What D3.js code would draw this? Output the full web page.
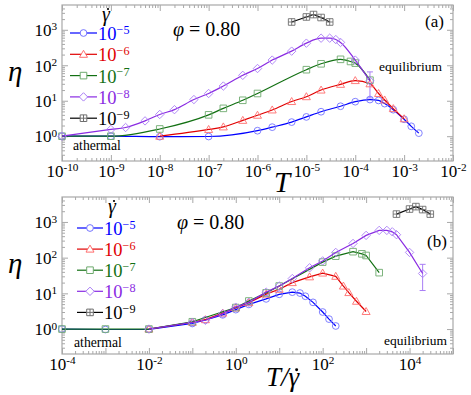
<!DOCTYPE html>
<html>
<head>
<meta charset="utf-8">
<script src="https://cdn.jsdelivr.net/npm/d3@7"></script>
</head>
<body style="margin:0">
<svg id="chart" width="471" height="395"></svg>
<script>
// shear rates (exponents) and their temperature / viscosity readings
const rateExps = [-5, -6, -7, -8, -9];

const tempRate5 = [1e-10, 1e-9, 1e-8, 1e-7, 1e-6, 2e-6, 5e-6, 1e-5, 2e-5, 5e-5, 1e-4, 2e-4, 3e-4, 4e-4, 6e-4, 1e-3, 1.4e-3, 2e-3];
const etaRate5 = [1.0, 1.0, 0.97, 0.98, 1.43, 1.8, 2.5, 3.5, 4.9, 7.0, 9.4, 10.8, 10.2, 8.3, 5.6, 3.0, 1.9, 1.22];

const tempRate6 = [1e-8, 1e-7, 2e-7, 5e-7, 1e-6, 2e-6, 5e-6, 1e-5, 2e-5, 5e-5, 1e-4, 2e-4, 3e-4, 4e-4, 6e-4, 1e-3];
const etaRate6 = [1.0, 1.55, 1.83, 2.8, 3.9, 5.5, 9.5, 13, 20, 29, 37, 30, 16, 10.5, 6.0, 3.1];

const tempRate7 = [1e-11, 1e-10, 1e-9, 1e-8, 1e-7, 2e-7, 5e-7, 1e-6, 1e-5, 2e-5, 5e-5, 8e-5, 1e-4, 2e-4];
const etaRate7 = [1.0, 1.0, 1.0, 1.6, 4.0, 6.1, 10.3, 16, 75, 110, 147, 128, 115, 38];

const tempRate8 = [1e-10, 1e-9, 2e-9, 5e-9, 1e-8, 2e-8, 5e-8, 1e-7, 2e-7, 5e-7, 1e-6, 2e-6, 5e-6, 1e-5, 2e-5, 3e-5, 4e-5, 5e-5, 1e-4, 2e-4];
const etaRate8 = [1.0, 1.55, 1.76, 2.7, 4.1, 5.6, 10.8, 16, 26, 52, 81, 140, 250, 420, 580, 580, 530, 440, 140, 36];

const tempRate9 = [5e-6, 1e-5, 1.4e-5, 2e-5, 3e-5];
const etaRate9 = [1660, 2300, 2690, 2220, 1660];

// error bar on the last 10^-8 point
const errTemp = [2e-4];
const errLow = [12];
const errHigh = [65];
const errRateExp = -8;

// tick labels
const xLabelsA = [-10, -9, -8, -7, -6, -5, -4, -3, -2];
const xLabelsB = [-4, -2, 0, 2, 4];
const yLabels = [0, 1, 2, 3];

// styles
const lineColors = ["#0000ff", "#e00000", "#127012", "#8a2be2", "#000000"];
const markColors = ["#7474ff", "#ff6e6e", "#6eaa6e", "#a97ef5", "#6e6e6e"];
const shapes = ["circle", "triangle", "square", "diamond", "boxplus"];
const serif = "'Liberation Serif'";

const series = [
    { temps: tempRate5, etas: etaRate5 },
    { temps: tempRate6, etas: etaRate6 },
    { temps: tempRate7, etas: etaRate7 },
    { temps: tempRate8, etas: etaRate8 },
    { temps: tempRate9, etas: etaRate9 }
].map((s, i) => ({
    exp: rateExps[i],
    rate: Math.pow(10, rateExps[i]),
    points: s.temps.map((t, j) => ({ T: t, eta: s.etas[j] })),
    line: lineColors[i],
    mark: markColors[i],
    shape: shapes[i]
}));

const svg = d3.select("#chart");
const frameColor = "#a8a8a8";

function markerPath(shape) {
    switch (shape) {
        case "circle": return d3.symbol(d3.symbolCircle, 36)();
        case "triangle": return "M0,-4L4,3L-4,3Z";
        case "square": return "M-3.3,-3.3H3.3V3.3H-3.3Z";
        case "diamond": return "M0,-4.2L4.2,0L0,4.2L-4.2,0Z";
        case "boxplus": return "M-3.3,-3.3H3.3V3.3H-3.3ZM-3.3,0H3.3M0,-3.3V3.3";
    }
}

// write "10" with a raised exponent into a text selection
function powerText(sel, exp, minus) {
    sel.text(null);
    sel.append("tspan").text("10");
    const e = exp < 0 ? minus + Math.abs(exp) : String(exp);
    sel.append("tspan").attr("dy", "-0.5em").attr("font-size", "0.66em").text(e);
}

function gammaDot(g, x, y, size) {
    g.append("text")
        .attr("x", x).attr("y", y)
        .attr("font-size", size)
        .style("font-style", "italic")
        .text("γ");
    g.append("circle")
        .attr("cx", x + size * 0.3).attr("cy", y - size * 0.6)
        .attr("r", size * 0.055).attr("fill", "#000");
}

function decadeMinors(lo, hi) {
    const out = [];
    for (let e = Math.floor(Math.log10(lo)); e <= Math.ceil(Math.log10(hi)); e++) {
        for (let m = 2; m <= 9; m++) {
            const v = m * Math.pow(10, e);
            if (v > lo * 1.0001 && v < hi * 0.9999) out.push(v);
        }
    }
    return out;
}

function drawPanel(cfg) {
    const left = 62, right = 453;
    const x = d3.scaleLog().domain(cfg.xDomain).range([left, right]);
    const y = d3.scaleLog().domain([0.2, 5000]).range([cfg.bottom, cfg.top]);
    const g = svg.append("g");

    const xMajors = d3.range(Math.log10(cfg.xDomain[0]), Math.log10(cfg.xDomain[1]) + 1).map(e => Math.pow(10, e));
    const xMinors = decadeMinors(cfg.xDomain[0], cfg.xDomain[1]);
    const yMajors = yLabels.map(e => Math.pow(10, e));
    const yMinors = decadeMinors(0.2, 5000);

    // inward ticks on all four sides
    const axes = [
        { make: d3.axisBottom, scale: x, pos: `translate(0,${cfg.bottom})`, majors: xMajors, minors: xMinors, labels: true },
        { make: d3.axisTop, scale: x, pos: `translate(0,${cfg.top})`, majors: xMajors, minors: xMinors, labels: false },
        { make: d3.axisLeft, scale: y, pos: `translate(${left},0)`, majors: yMajors, minors: yMinors, labels: true },
        { make: d3.axisRight, scale: y, pos: `translate(${right},0)`, majors: yMajors, minors: yMinors, labels: false }
    ];
    axes.forEach(a => {
        g.append("g").attr("transform", a.pos)
            .call(a.make(a.scale).tickValues(a.minors).tickSize(-3).tickFormat(""))
            .call(s => s.select(".domain").remove())
            .call(s => s.selectAll("line").attr("stroke", frameColor));
        const ax = g.append("g").attr("transform", a.pos)
            .call(a.make(a.scale).tickValues(a.majors).tickSize(-6).tickPadding(a.make === d3.axisLeft ? 5 : 4).tickFormat(d => d))
            .call(s => s.select(".domain").remove())
            .call(s => s.selectAll("line").attr("stroke", frameColor));
        ax.attr("font-family", null).attr("font-size", null);
        ax.selectAll(".tick text").each(function (d) {
            const e = Math.round(Math.log10(d));
            const t = d3.select(this);
            const show = a.labels && (a.scale === y ? yLabels.includes(e) : cfg.xLabels.includes(e));
            if (!show) { t.remove(); return; }
            t.attr("font-size", 17).attr("fill", "#000");
            if (a.scale === y) t.attr("dy", "0.34em");
            powerText(t, e, "-");
        });
    });

    g.append("rect")
        .attr("x", left).attr("y", cfg.top)
        .attr("width", right - left).attr("height", cfg.bottom - cfg.top)
        .attr("fill", "none").attr("stroke", frameColor).attr("stroke-width", 1.2);

    const xOf = (s, T) => cfg.scaled ? T / s.rate : T;
    const inside = v => v >= cfg.xDomain[0] * 0.999 && v <= cfg.xDomain[1] * 1.001;

    // error bar
    const es = series.find(s => s.exp === errRateExp);
    errTemp.forEach((t, i) => {
        const xv = x(xOf(es, t));
        g.append("path")
            .attr("d", `M${xv - 3},${y(errLow[i])}H${xv + 3}M${xv},${y(errLow[i])}V${y(errHigh[i])}M${xv - 3},${y(errHigh[i])}H${xv + 3}`)
            .attr("stroke", es.mark).attr("fill", "none");
    });

    series.forEach(s => {
        const pts = s.points.filter(p => inside(xOf(s, p.T)));
        const line = d3.line()
            .x(p => x(xOf(s, p.T)))
            .y(p => y(p.eta))
            .curve(cfg.smooth && s.exp !== -9 ? d3.curveMonotoneX : d3.curveLinear);
        g.append("path").datum(pts)
            .attr("d", line)
            .attr("fill", "none").attr("stroke", s.line).attr("stroke-width", 1.2);
        g.selectAll(null).data(pts).join("path")
            .attr("transform", p => `translate(${x(xOf(s, p.T))},${y(p.eta)})`)
            .attr("d", markerPath(s.shape))
            .attr("fill", "none").attr("stroke", s.mark).attr("stroke-width", 0.9);
    });

    // legend
    const lg = cfg.legend;
    gammaDot(g, lg.hx, lg.hy, 20);
    series.forEach((s, i) => {
        const yy = lg.y0 + i * lg.dy;
        g.append("line")
            .attr("x1", lg.x0).attr("x2", lg.x1).attr("y1", yy).attr("y2", yy)
            .attr("stroke", s.line).attr("stroke-width", 1.2);
        g.append("path")
            .attr("transform", `translate(${(lg.x0 + lg.x1) / 2},${yy})`)
            .attr("d", markerPath(s.shape))
            .attr("fill", "#fff").attr("stroke", s.mark);
        const t = g.append("text")
            .attr("x", lg.x1 + 1).attr("y", yy + 7)
            .attr("font-size", 18.5).attr("fill", s.line);
        powerText(t, s.exp, "\u2212");
    });

    // annotations
    const phi = g.append("text").attr("x", cfg.phi[0]).attr("y", cfg.phi[1]).attr("font-size", 20);
    phi.append("tspan").style("font-style", "italic").text("φ");
    phi.append("tspan").text(" = 0.80");
    g.append("text").attr("x", cfg.tag[0]).attr("y", cfg.tag[1]).attr("font-size", 17).text(cfg.tag[2]);
    g.append("text").attr("x", cfg.eq[0]).attr("y", cfg.eq[1]).attr("font-size", 13.5).text("equilibrium");
    g.append("text").attr("x", cfg.ath[0]).attr("y", cfg.ath[1]).attr("font-size", 13.7).text("athermal");
    g.append("text").attr("x", 8).attr("y", cfg.etaY).attr("font-size", 29)
        .style("font-style", "italic").text("η");
}

drawPanel({
    xDomain: [1e-10, 1e-2], xLabels: xLabelsA, top: 5, bottom: 161, scaled: false, smooth: true,
    legend: { hx: 102, hy: 21, x0: 70, x1: 97, y0: 33, dy: 21.3 },
    phi: [173, 36], tag: [425, 27, "(a)"], eq: [379, 71], ath: [73, 150], etaY: 81
});

drawPanel({
    xDomain: [1e-4, 1e5], xLabels: xLabelsB, top: 197, bottom: 354, scaled: true, smooth: false,
    legend: { hx: 108, hy: 213, x0: 77, x1: 103, y0: 228, dy: 21.1 },
    phi: [177, 229], tag: [427, 247, "(b)"], eq: [384, 345], ath: [74, 347], etaY: 273
});

// every text in the serif face before measuring
svg.selectAll("text").style("font-family", serif);

// x axis titles
svg.append("text").attr("x", 274).attr("y", 192).attr("font-size", 29)
    .style("font-family", serif).style("font-style", "italic").text("T");

const tb = svg.append("text").attr("x", 266).attr("y", 386).attr("font-size", 27)
    .style("font-family", serif).style("font-style", "italic").text("T/");
const tbw = tb.node().getComputedTextLength();
gammaDot(svg, 266 + tbw, 386, 27);

svg.selectAll("text").style("font-family", serif);
</script>
</body>
</html>
